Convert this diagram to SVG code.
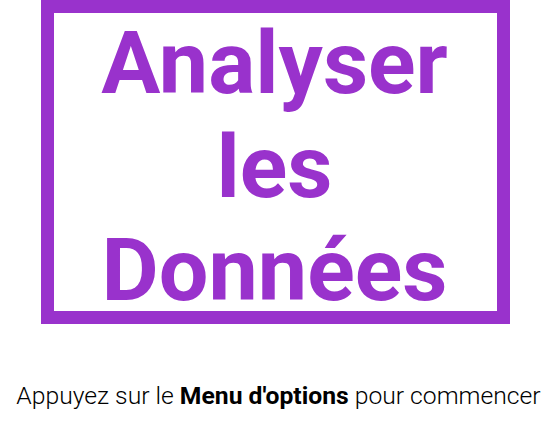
<svg xmlns="http://www.w3.org/2000/svg" width="549" height="424" viewBox="0 0 549 424">
<style>
.title{font-family:Roboto,"Liberation Sans",sans-serif;font-weight:700;font-size:88px;fill:#9932CC;text-anchor:middle}
.hint{font-family:Roboto,"Liberation Sans",sans-serif;font-weight:300;font-size:24.7px;fill:#000;text-anchor:middle}
</style>
<rect width="549" height="424" fill="#fff"/>
<g id="frame">
<rect x="47.5" y="6.5" width="456" height="311" fill="none" stroke="#9932CC" stroke-width="13"/>
<text class="title" x="274.5" y="93">Analyser</text>
<text class="title" x="274.5" y="196.5">les</text>
<text class="title" x="274.5" y="300">Données</text>
</g>
<g id="hint">
<text class="hint" x="278.5" y="404">Appuyez sur le <tspan font-weight="700">Menu d'options</tspan> pour commencer</text>
</g>
</svg>
